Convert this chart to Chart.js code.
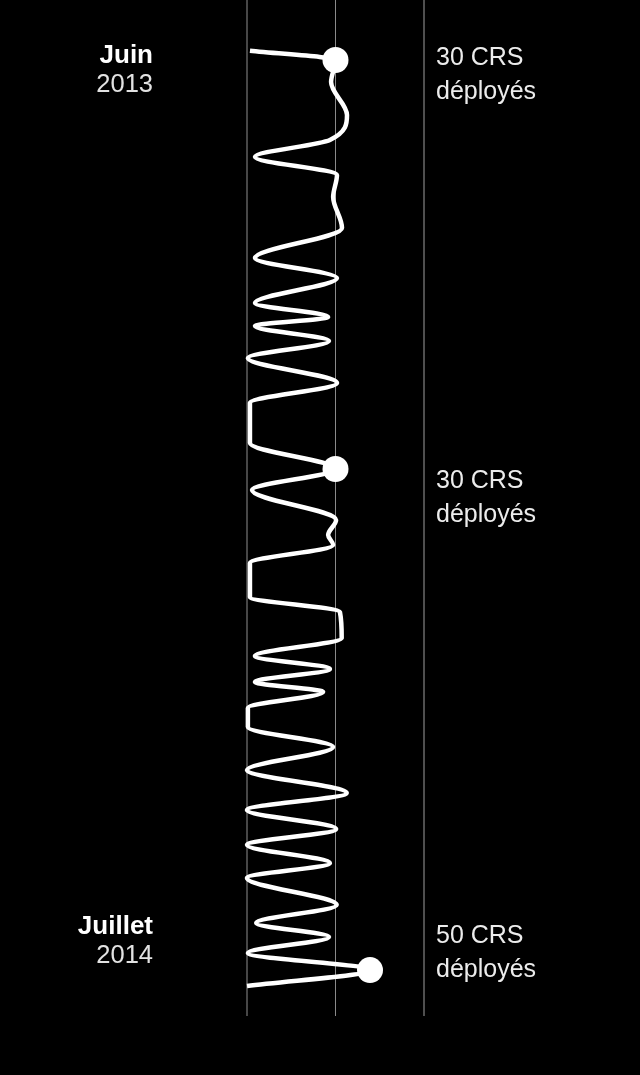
<!DOCTYPE html>
<html>
<head>
<meta charset="utf-8">
<script src="https://cdn.jsdelivr.net/npm/chart.js@4.4.1/dist/chart.umd.min.js"></script>
<style>
  html, body { margin: 0; padding: 0; background: #000; }
  #wrap { width: 640px; height: 1075px; position: relative; }
</style>
</head>
<body>
<div id="wrap"><canvas id="crsChart"></canvas></div>
<script>
  /* ================= DATA ================= */
  // semaines écoulées depuis juin 2013 (axe vertical)
  const weeks = [
    0.17, 0.75, 2.13, 4.19, 5.75, 6.81, 7.94, 9.31, 11.25, 13.13,
    14.38, 15.94, 16.81, 17.38, 18.31, 19.38, 20.94, 22.19, 24.69, 26.31,
    27.63, 29.5, 30.44, 31.06, 32.19, 34.31, 35.25, 36.88, 38.0, 38.81,
    39.63, 40.25, 41.25, 42.44, 43.69, 45.13, 46.56, 47.63, 48.81, 49.81,
    50.94, 51.88, 53.56, 54.69, 55.56, 56.56, 57.63, 58.63
  ];
  // nombre de CRS déployés (axe horizontal)
  const crs = [
    1.0, 30, 28.5, 33.9, 28.1, 2.7, 30.5, 29.2, 32.2, 2.7,
    30.5, 2.7, 27.5, 2.7, 27.8, 0.3, 30.5, 1.0, 1.0, 30,
    1.7, 30.2, 27.5, 29.2, 1.0, 1.0, 31.5, 32.1, 2.7, 28.1,
    2.7, 25.8, 0.3, 0.3, 29.2, 0, 33.8, 0, 30.2, 0,
    28.1, 0, 30.4, 3.1, 27.8, 0.3, 41.7, 0
  ];
  const markerIdx = [1, 19, 46];
  const xTicks = [0, 30, 60];

  const periodLabels = ["Juin", "Juillet"];
  const periodYears = ["2013", "2014"];
  const periodWeeks = [0.5, 54.94];

  const noteLabels = ["30 CRS", "30 CRS", "50 CRS"];
  const noteWeeks = [0.66, 27.05, 55.5];

  /* ================= STYLE ================= */
  const gridColors = ["#474747", "#8a8a8a", "#4f4f4f"];
  const gridWidths = [2, 1, 2];
  const FONT = '"Liberation Sans", Arial, Helvetica, sans-serif';

  /* ================= SIDE LABELS ================= */
  const sideLabels = {
    id: "sideLabels",
    afterDraw(chart) {
      const { ctx, chartArea, scales: { y } } = chart;
      ctx.save();
      ctx.textBaseline = "middle";

      ctx.textAlign = "right";
      periodLabels.forEach((m, i) => {
        const py = y.getPixelForValue(periodWeeks[i]);
        ctx.font = "bold 26px " + FONT;
        ctx.fillStyle = "#fff";
        ctx.fillText(m, chartArea.left - 94, py);
        ctx.font = "25.5px " + FONT;
        ctx.fillStyle = "#e2e2e2";
        ctx.fillText(periodYears[i], chartArea.left - 94, py + 29);
      });

      ctx.textAlign = "left";
      ctx.font = "25px " + FONT;
      ctx.fillStyle = "#ececec";
      noteLabels.forEach((t, i) => {
        const py = y.getPixelForValue(noteWeeks[i]);
        ctx.fillText(t, chartArea.right + 12, py);
        ctx.fillText("déployés", chartArea.right + 12, py + 34);
      });
      ctx.restore();
    }
  };

  /* ================= CHART ================= */
  new Chart(document.getElementById("crsChart"), {
    type: "line",
    data: {
      datasets: [{
        data: weeks.map((w, i) => ({ x: crs[i], y: w })),
        borderColor: "#fff",
        borderWidth: 4.5,
        cubicInterpolationMode: "monotone",
        capBezierPoints: false,
        clip: false,
        pointRadius: c => markerIdx.includes(c.dataIndex) ? 13 : 0,
        pointBackgroundColor: "#fff",
        pointBorderWidth: 0,
        fill: false
      }]
    },
    options: {
      indexAxis: "y",
      responsive: true,
      maintainAspectRatio: false,
      animation: false,
      layout: { padding: { left: 247, right: 216, top: 0, bottom: 59 } },
      plugins: {
        legend: { display: false },
        tooltip: { enabled: false }
      },
      scales: {
        x: {
          type: "linear",
          min: 0,
          max: 60,
          afterBuildTicks: s => { s.ticks = xTicks.map(v => ({ value: v })); },
          afterFit: s => { s.height = 0; },
          ticks: { display: false },
          border: { display: false },
          grid: {
            drawTicks: false,
            color: c => gridColors[c.index],
            lineWidth: c => gridWidths[c.index]
          }
        },
        y: {
          type: "linear",
          reverse: true,
          min: -3,
          max: 60.5,
          display: false
        }
      }
    },
    plugins: [sideLabels]
  });
</script>
</body>
</html>
